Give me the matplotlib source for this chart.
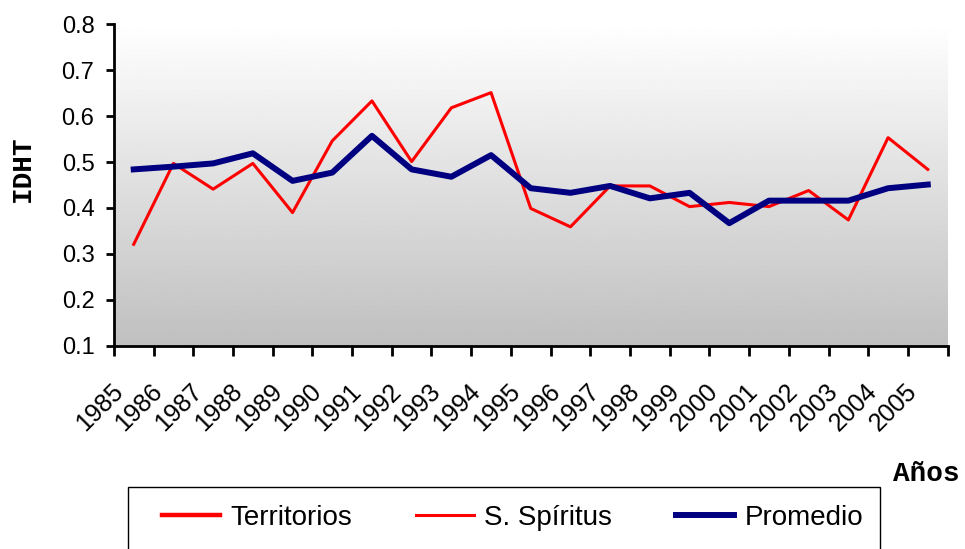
import matplotlib.pyplot as plt
import matplotlib as mpl
import numpy as np
from matplotlib.transforms import ScaledTranslation
from matplotlib.patches import Rectangle

# data
years = [str(y) for y in range(1985, 2006)]
territorios = []  # appears only in the legend
s_spiritus = [0.321, 0.497, 0.441, 0.497, 0.390, 0.546, 0.633, 0.501, 0.618, 0.651, 0.399,
              0.359, 0.448, 0.448, 0.403, 0.412, 0.403, 0.438, 0.374, 0.553, 0.484]
promedio = [0.484, 0.490, 0.497, 0.519, 0.459, 0.477, 0.557, 0.484, 0.468, 0.515, 0.443,
            0.433, 0.448, 0.421, 0.433, 0.367, 0.416, 0.416, 0.416, 0.443, 0.451]
yticks = [0.1, 0.2, 0.3, 0.4, 0.5, 0.6, 0.7, 0.8]

plt.rcParams['font.family'] = ['Liberation Sans', 'DejaVu Sans']
MONO = ['Liberation Mono', 'DejaVu Sans Mono']

fig = plt.figure(figsize=(9.65, 5.49), dpi=100)
ax = fig.add_axes([0.118, 0.370, 0.864, 0.586])

# gray gradient background, white at top
grad = np.linspace(1.0, 0.75, 256).reshape(-1, 1)
ax.imshow(grad, extent=[0, 1, 0, 1], transform=ax.transAxes, cmap='gray',
          vmin=0, vmax=1, aspect='auto', zorder=0)

x = np.arange(len(years))
ax.plot(territorios, color='#FF0000', lw=3.2, label='Territorios')
ax.plot(x, s_spiritus, color='#FF0000', lw=2.2, label='S. Spíritus', zorder=3)
ax.plot(x, promedio, color='#000080', lw=4.3, label='Promedio', zorder=4)

ax.set_xlim(-0.5, len(years) - 0.5)
ax.set_ylim(0.1, 0.8)
ax.set_yticks(yticks)
ax.set_yticklabels([f'{v:.1f}' for v in yticks], fontsize=17)
ax.set_xticks(x)
ax.set_xticklabels(years, rotation=45, ha='right', va='top', rotation_mode='anchor', fontsize=18)
ax.set_xticks(np.arange(len(years) + 1) - 0.5, minor=True)
ax.tick_params(axis='x', which='major', length=0, pad=24)
ax.tick_params(axis='x', which='minor', length=7, width=2, direction='out')
ax.tick_params(axis='y', length=6, width=2, direction='out', pad=8)
for lab in ax.get_xticklabels():
    lab.set_transform(lab.get_transform() + ScaledTranslation(-0.23, 0, fig.dpi_scale_trans))

for s in ['top', 'right']:
    ax.spines[s].set_visible(False)
ax.spines['left'].set_linewidth(2)
ax.spines['bottom'].set_linewidth(2)

fig.text(0.024, 0.692, 'IDHT', rotation=90, ha='center', va='center',
         family=MONO, weight='bold', fontsize=20)
fig.text(0.96, 0.137, 'Años', ha='center', va='center',
         family=MONO, weight='bold', fontsize=20)

# legend box, cut by the bottom edge as in the reference
fig.patches.append(Rectangle((128 / 965, -0.05), 752 / 965, 0.05 + 62 / 549,
                             transform=fig.transFigure, facecolor='white',
                             edgecolor='black', lw=1, zorder=1))
fig.legend(loc='center left', bbox_to_anchor=(162 / 965, 1 - 518 / 549), ncol=3, fontsize=20,
           frameon=False, borderpad=0, borderaxespad=0,
           handlelength=2.1, handletextpad=0.36, columnspacing=2.3)

plt.savefig('out.png', dpi=100)
